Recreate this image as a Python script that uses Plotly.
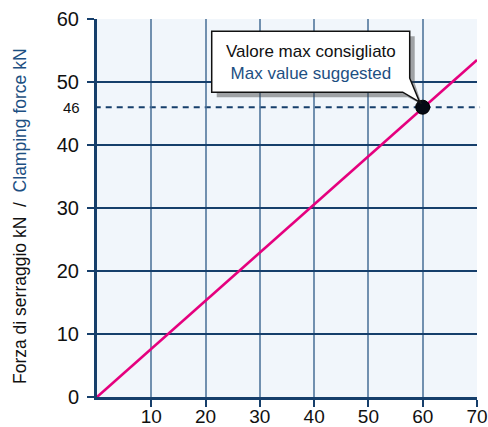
import plotly.graph_objects as go

# ---- data ----
line_x = [0, 70]
line_y = [0, 53.5]
max_x = [60]
max_y = [46]
x_ticks = [10, 20, 30, 40, 50, 60, 70]
y_ticks = [0, 10, 20, 30, 40, 50, 60]
max_label = "46"
callout_it = "Valore max consigliato"
callout_en = "Max value suggested"
ytitle_it = "Forza di serraggio kN"
ytitle_en = "Clamping force kN"

NAVY = "#163f6b"
BLUE_TXT = "#1d4f82"
PINK = "#e5007e"
FONT = "Liberation Sans, Arial, sans-serif"

fig = go.Figure()
fig.add_trace(go.Scatter(x=line_x, y=line_y, mode="lines",
                         line=dict(color=PINK, width=2.6), hoverinfo="skip"))
fig.add_trace(go.Scatter(x=max_x, y=max_y, mode="markers",
                         marker=dict(color="#050a14", size=14,
                                     line=dict(color="#000000", width=1)),
                         hoverinfo="skip"))

# dashed reference line at the max value
fig.add_shape(type="line", xref="paper", yref="y", x0=-0.006, x1=1.008,
              y0=max_y[0], y1=max_y[0], layer="below",
              line=dict(color=NAVY, width=2, dash="6px,5px"))

# callout (speech bubble) drawn in pixel offsets anchored at the max point
bubble = "M -211 76 L -13 76 L -13 29 L -3 5 L -20 15 L -211 15 Z"
shadow = "M -206 71 L -8 71 L -8 24 L -1 3 L -15 10 L -206 10 Z"
fig.add_shape(type="path", path=shadow, xsizemode="pixel", ysizemode="pixel",
              xanchor=max_x[0], yanchor=max_y[0], xref="x", yref="y",
              fillcolor="rgba(60,60,60,0.45)", line=dict(width=0), layer="above")
fig.add_shape(type="path", path=bubble, xsizemode="pixel", ysizemode="pixel",
              xanchor=max_x[0], yanchor=max_y[0], xref="x", yref="y",
              fillcolor="white", line=dict(color="#111111", width=1.5), layer="above")

fig.add_annotation(x=max_x[0], y=max_y[0], xref="x", yref="y", showarrow=False,
                   xshift=-112, yshift=45, xanchor="center", yanchor="middle",
                   align="center",
                   text=f"<span style='color:#111111'>{callout_it}</span><br>"
                        f"<span style='color:{BLUE_TXT}'>{callout_en}</span>",
                   font=dict(family=FONT, size=17))

# small "46" label
fig.add_annotation(x=0, y=max_y[0], xref="x", yref="y", showarrow=False,
                   xanchor="right", yanchor="middle", xshift=-15,
                   text=max_label, font=dict(family=FONT, size=15, color="#111111"))

# y-axis title, two-colour
fig.add_annotation(x=0, y=0.5, xref="paper", yref="paper", showarrow=False,
                   xanchor="center", yanchor="middle", xshift=-77, yshift=-8,
                   textangle=-90,
                   text=f"<span style='color:#111111'>{ytitle_it}</span>"
                        f"  /  <span style='color:{BLUE_TXT}'>{ytitle_en}</span>",
                   font=dict(family=FONT, size=17.5))

fig.update_layout(
    width=488, height=427,
    margin=dict(l=97, r=11, t=19, b=30),
    paper_bgcolor="white", plot_bgcolor="#f1f6fb",
    showlegend=False,
    font=dict(family=FONT, color="#111111"),
)
fig.update_xaxes(range=[0, 70], tickvals=x_ticks, ticktext=[str(v) for v in x_ticks],
                 showgrid=True, gridcolor="rgba(70,110,150,0.75)", gridwidth=2,
                 zeroline=False, showline=True, linecolor=NAVY, linewidth=3,
                 ticks="outside", ticklen=7, tickcolor=NAVY, tickwidth=1.5,
                 tickfont=dict(family=FONT, size=19, color="#111111"),
                 ticklabelstandoff=-7, automargin=False, ticklabeloverflow="allow")
fig.update_yaxes(range=[0, 60], tickvals=y_ticks, ticktext=[str(v) for v in y_ticks],
                 showgrid=True, gridcolor=NAVY, gridwidth=1.5,
                 zeroline=False, showline=True, linecolor=NAVY, linewidth=3,
                 ticks="outside", ticklen=7, tickcolor=NAVY, tickwidth=1.5,
                 tickfont=dict(family=FONT, size=20, color="#111111"),
                 ticklabelstandoff=4, automargin=False)

fig.write_html("out.html", config={"displayModeBar": False},
               post_script="document.body.style.margin='0';document.body.style.padding='0';")
